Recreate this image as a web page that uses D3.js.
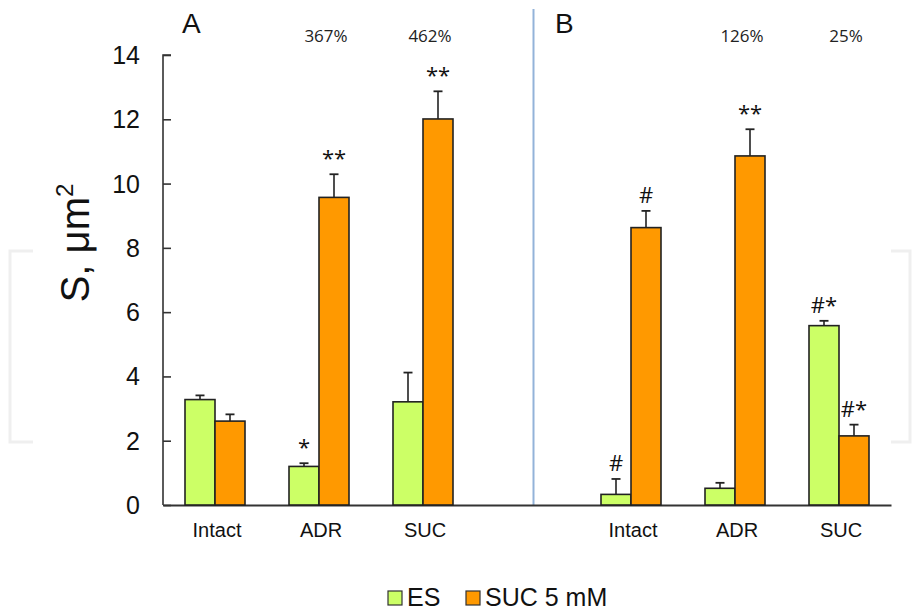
<!DOCTYPE html>
<html>
<head>
<meta charset="utf-8">
<script src="https://cdn.jsdelivr.net/npm/d3@7"></script>
<style>
  html, body { margin: 0; padding: 0; background: #fff; }
  svg { display: block; }
</style>
</head>
<body>
<svg id="chart" width="912" height="614"></svg>
<script>
// Groups along the x axis (panel A, an empty slot, then panel B)
const slots = ["A-Intact", "A-ADR", "A-SUC", "gap", "B-Intact", "B-ADR", "B-SUC"];
const categoryLabels = ["Intact", "ADR", "SUC", "", "Intact", "ADR", "SUC"];

// Mean area, µm²
const esValues  = [3.28, 1.20, 3.21, null, 0.33, 0.52, 5.58];
const sucValues = [2.61, 9.57, 12.01, null, 8.63, 10.86, 2.15];
// Error (upper whisker length)
const esErrors  = [0.13, 0.10, 0.91, null, 0.48, 0.17, 0.15];
const sucErrors = [0.21, 0.72, 0.86, null, 0.52, 0.83, 0.35];
// Significance marks
const esMarks  = ["", "*", "", null, "#", "", "#*"];
const sucMarks = ["", "**", "**", null, "#", "**", "#*"];
// Percent change labels
const pctSlots  = ["A-ADR", "A-SUC", "B-ADR", "B-SUC"];
const pctLabels = ["367%", "462%", "126%", "25%"];

const yTicks = [0, 2, 4, 6, 8, 10, 12, 14];
const seriesNames = ["ES", "SUC 5 mM"];
const colors = { ES: "#ccff66", SUC: "#ff9900" };

const svg = d3.select("#chart");

// faint side brackets
const bracket = svg.append("g").attr("fill", "none").attr("stroke", "#efefef").attr("stroke-width", 3);
bracket.append("path").attr("d", "M33,251 H10 V442 H33");
bracket.append("path").attr("d", "M891,251 H910 V442 H891");

const x = d3.scaleBand().domain(slots).range([163, 891]).padding(0);
const y = d3.scaleLinear().domain([0, 14]).range([505, 55]);
const barW = 30;

// divider between panels
svg.append("line")
  .attr("x1", 533.5).attr("x2", 533.5)
  .attr("y1", 9).attr("y2", y(0))
  .attr("stroke", "#93b3d9").attr("stroke-width", 2);

// y axis
const yAxis = svg.append("g")
  .attr("transform", `translate(${x.range()[0]},0)`)
  .call(d3.axisRight(y).tickValues(yTicks).tickSize(8).tickFormat(""));
yAxis.select(".domain").attr("stroke", "#333").attr("stroke-width", 1.6).attr("d", `M8,${y(14)}H0V${y(0)}`);
yAxis.selectAll(".tick line").attr("stroke", "#333").attr("stroke-width", 1.6);

svg.append("g").selectAll("text").data(yTicks).join("text")
  .attr("x", 140).attr("y", d => y(d))
  .attr("dy", "0.36em")
  .attr("text-anchor", "end")
  .attr("font-family", "Liberation Sans, Arial, sans-serif")
  .attr("font-size", 25).attr("fill", "#111")
  .text(d => d);

// x axis line
const xAxis = svg.append("g")
  .attr("transform", `translate(0,${y(0)})`)
  .call(d3.axisBottom(x).tickSize(0).tickFormat(""));
xAxis.select(".domain").attr("stroke", "#333").attr("stroke-width", 2);

// category labels
svg.append("g").selectAll("text").data(slots).join("text")
  .attr("x", d => x(d) + x.bandwidth() / 2 + 2)
  .attr("y", 537)
  .attr("text-anchor", "middle")
  .attr("font-family", "Liberation Sans, Arial, sans-serif")
  .attr("font-size", 20).attr("fill", "#111")
  .text((d, i) => categoryLabels[i]);

// bars
const rows = slots.map((s, i) => ({
  slot: s, es: esValues[i], suc: sucValues[i],
  esErr: esErrors[i], sucErr: sucErrors[i],
  esMark: esMarks[i], sucMark: sucMarks[i]
})).filter(d => d.es !== null);

const bars = [];
rows.forEach(d => {
  const c = x(d.slot) + x.bandwidth() / 2;
  bars.push({ x0: c - barW, v: d.es, err: d.esErr, mark: d.esMark, color: colors.ES });
  bars.push({ x0: c, v: d.suc, err: d.sucErr, mark: d.sucMark, color: colors.SUC });
});

const g = svg.append("g");
// error bars
g.selectAll("line.err").data(bars).join("line").attr("class", "err")
  .attr("x1", d => d.x0 + barW / 2).attr("x2", d => d.x0 + barW / 2)
  .attr("y1", d => y(d.v)).attr("y2", d => y(d.v + d.err))
  .attr("stroke", "#222").attr("stroke-width", 1.6);
g.selectAll("line.cap").data(bars).join("line").attr("class", "cap")
  .attr("x1", d => d.x0 + barW / 2 - 4.5).attr("x2", d => d.x0 + barW / 2 + 4.5)
  .attr("y1", d => y(d.v + d.err)).attr("y2", d => y(d.v + d.err))
  .attr("stroke", "#222").attr("stroke-width", 1.8);
g.selectAll("rect").data(bars).join("rect")
  .attr("x", d => d.x0).attr("width", barW)
  .attr("y", d => y(d.v)).attr("height", d => y(0) - y(d.v))
  .attr("fill", d => d.color)
  .attr("stroke", "#222").attr("stroke-width", 1.6);

// significance marks
g.selectAll("text.mark").data(bars.filter(d => d.mark)).join("text").attr("class", "mark")
  .attr("x", d => d.x0 + barW / 2)
  .attr("y", d => y(d.v + d.err) - 8)
  .attr("text-anchor", "middle")
  .attr("font-family", "Open Sans, sans-serif")
  .attr("font-size", 22).attr("fill", "#111")
  .text(d => d.mark);

// percent labels
svg.append("g").selectAll("text").data(pctSlots).join("text")
  .attr("x", (d) => x(d) + x.bandwidth() / 2 + 7)
  .attr("y", 42)
  .attr("text-anchor", "middle")
  .attr("font-family", "Open Sans, sans-serif")
  .attr("font-size", 17).attr("fill", "#222")
  .text((d, i) => pctLabels[i]);

// panel letters
svg.append("text").attr("x", 182).attr("y", 33)
  .attr("font-family", "Liberation Sans, Arial, sans-serif").attr("font-size", 28).attr("fill", "#111").text("A");
svg.append("text").attr("x", 555).attr("y", 33)
  .attr("font-family", "Liberation Sans, Arial, sans-serif").attr("font-size", 28).attr("fill", "#111").text("B");

// y axis title
const yt = svg.append("text")
  .attr("transform", "translate(89,243) rotate(-90)")
  .attr("text-anchor", "middle")
  .attr("font-family", "Liberation Sans, Arial, sans-serif")
  .attr("font-size", 40).attr("fill", "#111");
yt.append("tspan").text("S, μm");
yt.append("tspan").attr("font-size", 24).attr("dy", -16).text("2");

// legend
const legend = svg.append("g").attr("font-family", "Liberation Sans, Arial, sans-serif").attr("font-size", 25).attr("fill", "#111");
const legendPos = [388, 466];
seriesNames.forEach((name, i) => {
  legend.append("rect").attr("x", legendPos[i]).attr("y", 591).attr("width", 14).attr("height", 14)
    .attr("fill", i === 0 ? colors.ES : colors.SUC).attr("stroke", "#333").attr("stroke-width", 1.2);
  legend.append("text").attr("x", legendPos[i] + 19).attr("y", 606).text(name);
});
</script>
</body>
</html>
